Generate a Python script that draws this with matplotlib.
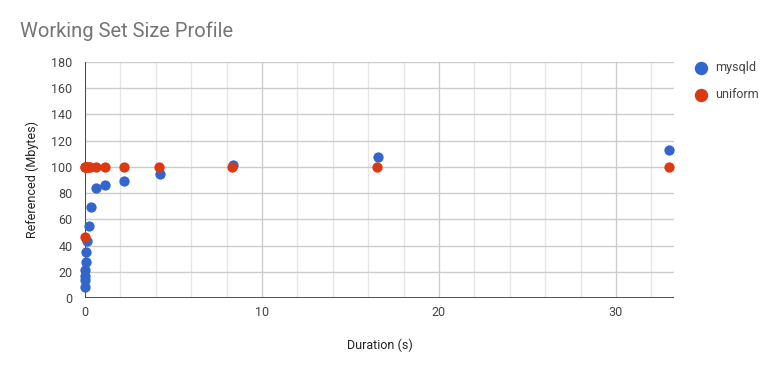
import matplotlib
matplotlib.use("Agg")
import matplotlib.pyplot as plt
from matplotlib.ticker import MultipleLocator

title = "Working Set Size Profile"
mysqld_x = [0.0, 0.0, 0.0, 0.01, 0.03, 0.07, 0.13, 0.23, 0.36, 0.62, 1.15, 2.2, 4.24, 8.36, 16.57, 32.97]
mysqld_y = [8.6, 13.7, 17.0, 21.4, 27.5, 35.0, 43.2, 54.7, 69.7, 84.0, 86.0, 89.5, 94.6, 101.4, 107.3, 112.9]
uniform_x = [0.0, 0.0, 0.02, 0.05, 0.1, 0.2, 0.3, 0.6, 1.15, 2.2, 4.2, 8.3, 16.5, 33.0]
uniform_y = [46.3, 100, 100, 100, 100, 100, 100, 100, 100, 100, 100, 100, 100, 100]

plt.rcParams['font.family'] = ['Roboto', 'DejaVu Sans']
fig = plt.figure(figsize=(7.77, 3.71), dpi=100)
ax = fig.add_axes([85/777, 1-298/371, (674-85)/777, (298-62)/371])

blue = '#3366cc'
red = '#dc3912'
ax.scatter(mysqld_x, mysqld_y, s=55, color=blue, zorder=3, clip_on=False, linewidths=0, label='mysqld')
ax.scatter(uniform_x, uniform_y, s=55, color=red, zorder=4, clip_on=False, linewidths=0, label='uniform')

ax.set_xlim(0, 33.28)
ax.set_ylim(0, 180)
ax.xaxis.set_major_locator(MultipleLocator(10))
ax.xaxis.set_minor_locator(MultipleLocator(2))
ax.yaxis.set_major_locator(MultipleLocator(20))
ax.grid(which='major', color='#cccccc', linewidth=1, zorder=0)
ax.grid(which='minor', axis='x', color='#e6e6e6', linewidth=1, zorder=0)
ax.set_axisbelow(True)
for s in ax.spines.values():
    s.set_visible(False)
ax.axvline(0, color='#333333', linewidth=1.2, zorder=2)
ax.axhline(0, color='#333333', linewidth=1.2, zorder=2)
ax.tick_params(which='both', length=0, labelsize=9, colors='#444444', pad=9)
ax.tick_params(axis='x', pad=6)

ax.set_xlabel('Duration (s)', fontsize=9, color='#222222', labelpad=14)
ax.set_ylabel('Referenced (Mbytes)', fontsize=9, color='#222222', labelpad=9)
fig.text(20/777, 1-31/371, title, fontsize=14.5, color='#757575', va='center', ha='left')

leg = fig.legend(handles=ax.collections, labels=['mysqld', 'uniform'], loc='upper left',
                 bbox_to_anchor=(683/777, 1-50/371), frameon=False, fontsize=9,
                 labelcolor='#444444', handletextpad=0.7, labelspacing=1.1, markerscale=1.3,
                 handlelength=1.0)

fig.savefig('out.png', dpi=100, facecolor='white')
